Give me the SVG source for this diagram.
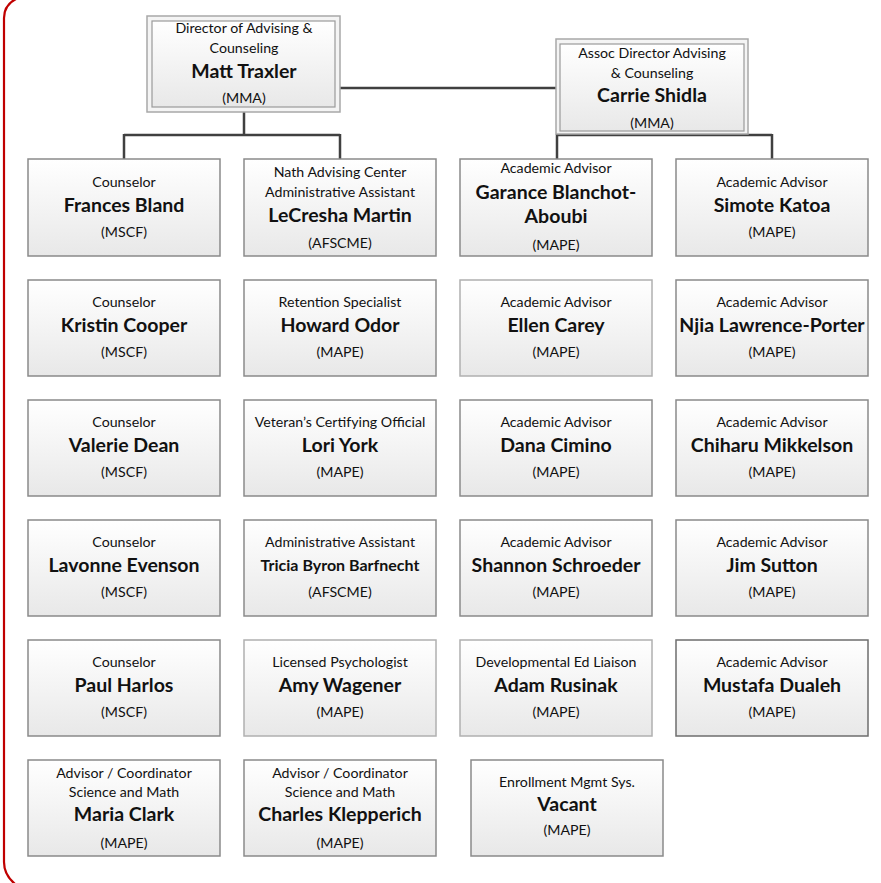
<svg xmlns="http://www.w3.org/2000/svg" width="881" height="883" viewBox="0 0 881 883">
<style>
.box{fill:url(#g);stroke:#8a8a8a;stroke-width:1.5}
.lt{stroke:#b0b0b0}
.dk{stroke:#6e6e6e}
.outer{fill:#f4f4f4;stroke:#a8a8a8;stroke-width:1.5}
.inner{fill:url(#g);stroke:#9a9a9a;stroke-width:1.2}
text{font-family:Lato,"Open Sans","Liberation Sans",sans-serif;text-anchor:middle;fill:#111}
.t{font-size:14.2px}
.n{font-size:19.5px;font-weight:bold}
.s{font-size:16px}
.c{fill:none;stroke:#404040;stroke-width:2.5}
</style>
<defs>
<linearGradient id="g" x1="0" y1="0" x2="0" y2="1">
<stop offset="0" stop-color="#ffffff"/>
<stop offset="1" stop-color="#e8e8e8"/>
</linearGradient>
</defs>
<rect width="881" height="883" fill="#ffffff"/>
<path d="M16 -1 Q4 5 4 18 L4 862 Q4 875 15 884" fill="none" stroke="#c00000" stroke-width="2.2"/>
<g id="connectors">
<path class="c" d="M340 88 H556"/>
<path class="c" d="M244 112 V135 M124 135 H340 M124 134 V159 M340 134 V159"/>
<path class="c" d="M557 134 V159 M556 135 H772 M772 134 V159"/>
</g>
<g id="n-director">
<rect class="outer" x="147" y="16" width="193" height="96"/>
<rect class="inner" x="152" y="21" width="183" height="86"/>
<text class="t" x="244" y="33">Director of Advising &amp;</text>
<text class="t" x="244" y="53">Counseling</text>
<text class="n" x="244" y="78">Matt Traxler</text>
<text class="t" x="244" y="103">(MMA)</text>
</g>
<g id="n-assoc">
<rect class="outer" x="556" y="39" width="192" height="95"/>
<rect class="inner" x="560" y="44" width="184" height="87"/>
<text class="t" x="652" y="58">Assoc Director Advising</text>
<text class="t" x="652" y="78">&amp; Counseling</text>
<text class="n" x="652" y="102">Carrie Shidla</text>
<text class="t" x="652" y="128">(MMA)</text>
</g>
<g id="n-bland">
<rect class="box" x="28" y="159" width="192" height="97"/>
<text class="t" x="124" y="187">Counselor</text>
<text class="n" x="124" y="212">Frances Bland</text>
<text class="t" x="124" y="237">(MSCF)</text>
</g>
<g id="n-martin">
<rect class="box" x="244" y="159" width="192" height="97"/>
<text class="t" x="340" y="177">Nath Advising Center</text>
<text class="t" x="340" y="197">Administrative Assistant</text>
<text class="n" x="340" y="222">LeCresha Martin</text>
<text class="t" x="340" y="248">(AFSCME)</text>
</g>
<g id="n-blanchot">
<rect class="box" x="460" y="159" width="192" height="97"/>
<text class="t" x="556" y="173">Academic Advisor</text>
<text class="n" x="556" y="199">Garance Blanchot-</text>
<text class="n" x="556" y="223">Aboubi</text>
<text class="t" x="556" y="250">(MAPE)</text>
</g>
<g id="n-katoa">
<rect class="box" x="676" y="159" width="192" height="97"/>
<text class="t" x="772" y="187">Academic Advisor</text>
<text class="n" x="772" y="212">Simote Katoa</text>
<text class="t" x="772" y="237">(MAPE)</text>
</g>
<g id="n-cooper">
<rect class="box" x="28" y="280" width="192" height="96"/>
<text class="t" x="124" y="307">Counselor</text>
<text class="n" x="124" y="332">Kristin Cooper</text>
<text class="t" x="124" y="357">(MSCF)</text>
</g>
<g id="n-odor">
<rect class="box" x="244" y="280" width="192" height="96"/>
<text class="t" x="340" y="307">Retention Specialist</text>
<text class="n" x="340" y="332">Howard Odor</text>
<text class="t" x="340" y="357">(MAPE)</text>
</g>
<g id="n-carey">
<rect class="box lt" x="460" y="280" width="192" height="96"/>
<text class="t" x="556" y="307">Academic Advisor</text>
<text class="n" x="556" y="332">Ellen Carey</text>
<text class="t" x="556" y="357">(MAPE)</text>
</g>
<g id="n-lawrence">
<rect class="box" x="676" y="280" width="192" height="96"/>
<text class="t" x="772" y="307">Academic Advisor</text>
<text class="n" x="772" y="332">Njia Lawrence-Porter</text>
<text class="t" x="772" y="357">(MAPE)</text>
</g>
<g id="n-dean">
<rect class="box" x="28" y="400" width="192" height="96"/>
<text class="t" x="124" y="427">Counselor</text>
<text class="n" x="124" y="452">Valerie Dean</text>
<text class="t" x="124" y="477">(MSCF)</text>
</g>
<g id="n-york">
<rect class="box" x="244" y="400" width="192" height="96"/>
<text class="t" x="340" y="427">Veteran’s Certifying Official</text>
<text class="n" x="340" y="452">Lori York</text>
<text class="t" x="340" y="477">(MAPE)</text>
</g>
<g id="n-cimino">
<rect class="box" x="460" y="400" width="192" height="96"/>
<text class="t" x="556" y="427">Academic Advisor</text>
<text class="n" x="556" y="452">Dana Cimino</text>
<text class="t" x="556" y="477">(MAPE)</text>
</g>
<g id="n-mikkelson">
<rect class="box" x="676" y="400" width="192" height="96"/>
<text class="t" x="772" y="427">Academic Advisor</text>
<text class="n" x="772" y="452">Chiharu Mikkelson</text>
<text class="t" x="772" y="477">(MAPE)</text>
</g>
<g id="n-evenson">
<rect class="box" x="28" y="520" width="192" height="96"/>
<text class="t" x="124" y="547">Counselor</text>
<text class="n" x="124" y="572">Lavonne Evenson</text>
<text class="t" x="124" y="597">(MSCF)</text>
</g>
<g id="n-barfnecht">
<rect class="box" x="244" y="520" width="192" height="96"/>
<text class="t" x="340" y="547">Administrative Assistant</text>
<text class="n s" x="340" y="571">Tricia Byron Barfnecht</text>
<text class="t" x="340" y="597">(AFSCME)</text>
</g>
<g id="n-schroeder">
<rect class="box" x="460" y="520" width="192" height="96"/>
<text class="t" x="556" y="547">Academic Advisor</text>
<text class="n" x="556" y="572">Shannon Schroeder</text>
<text class="t" x="556" y="597">(MAPE)</text>
</g>
<g id="n-sutton">
<rect class="box" x="676" y="520" width="192" height="96"/>
<text class="t" x="772" y="547">Academic Advisor</text>
<text class="n" x="772" y="572">Jim Sutton</text>
<text class="t" x="772" y="597">(MAPE)</text>
</g>
<g id="n-harlos">
<rect class="box" x="28" y="640" width="192" height="96"/>
<text class="t" x="124" y="667">Counselor</text>
<text class="n" x="124" y="692">Paul Harlos</text>
<text class="t" x="124" y="717">(MSCF)</text>
</g>
<g id="n-wagener">
<rect class="box lt" x="244" y="640" width="192" height="96"/>
<text class="t" x="340" y="667">Licensed Psychologist</text>
<text class="n" x="340" y="692">Amy Wagener</text>
<text class="t" x="340" y="717">(MAPE)</text>
</g>
<g id="n-rusinak">
<rect class="box lt" x="460" y="640" width="192" height="96"/>
<text class="t" x="556" y="667">Developmental Ed Liaison</text>
<text class="n" x="556" y="692">Adam Rusinak</text>
<text class="t" x="556" y="717">(MAPE)</text>
</g>
<g id="n-dualeh">
<rect class="box dk" x="676" y="640" width="192" height="96"/>
<text class="t" x="772" y="667">Academic Advisor</text>
<text class="n" x="772" y="692">Mustafa Dualeh</text>
<text class="t" x="772" y="717">(MAPE)</text>
</g>
<g id="n-clark">
<rect class="box" x="28" y="760" width="192" height="96"/>
<text class="t" x="124" y="778">Advisor / Coordinator</text>
<text class="t" x="124" y="797">Science and Math</text>
<text class="n" x="124" y="821">Maria Clark</text>
<text class="t" x="124" y="848">(MAPE)</text>
</g>
<g id="n-klepperich">
<rect class="box" x="244" y="760" width="192" height="96"/>
<text class="t" x="340" y="778">Advisor / Coordinator</text>
<text class="t" x="340" y="797">Science and Math</text>
<text class="n" x="340" y="821">Charles Klepperich</text>
<text class="t" x="340" y="848">(MAPE)</text>
</g>
<g id="n-vacant">
<rect class="box" x="471" y="760" width="192" height="96"/>
<text class="t" x="567" y="787">Enrollment Mgmt Sys.</text>
<text class="n" x="567" y="811">Vacant</text>
<text class="t" x="567" y="835">(MAPE)</text>
</g>
</svg>
